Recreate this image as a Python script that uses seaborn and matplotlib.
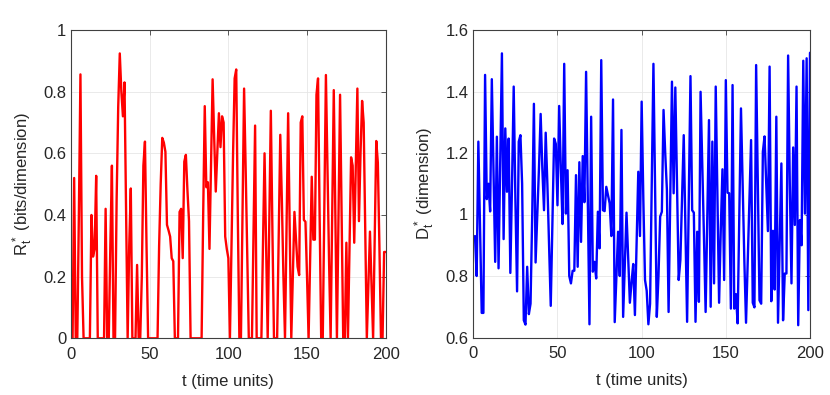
import numpy as np
import pandas as pd
import matplotlib
matplotlib.use("Agg")
import matplotlib.pyplot as plt
import seaborn as sns

# ---------------- data ----------------
t = list(range(1, 201))

rate = [
    0, 0.52, 0, 0, 0.40, 0.856, 0.2, 0, 0, 0,
    0, 0, 0.40, 0.265, 0.29, 0.527, 0, 0, 0, 0,
    0, 0.42, 0, 0, 0.30, 0.56, 0, 0, 0.45, 0.75,
    0.924, 0.8, 0.72, 0.83, 0.4, 0, 0.3, 0.486, 0, 0,
    0, 0.238, 0, 0, 0.2, 0.56, 0.638, 0.3, 0, 0,
    0, 0, 0, 0, 0, 0.3, 0.5, 0.65, 0.635, 0.605,
    0.368, 0.35, 0.33, 0.26, 0.25, 0, 0, 0, 0.41, 0.42,
    0.26, 0.573, 0.595, 0.48, 0.38, 0, 0, 0, 0, 0,
    0, 0, 0, 0.40, 0.753, 0.49, 0.506, 0.29, 0.56, 0.84,
    0.65, 0.476, 0.6, 0.73, 0.62, 0.72, 0.70, 0.33, 0.29, 0.26,
    0, 0.3, 0.6, 0.843, 0.872, 0.4, 0, 0, 0.4, 0.81,
    0.55, 0.27, 0, 0, 0, 0.35, 0.69, 0, 0, 0,
    0, 0.3, 0.60, 0.3, 0, 0.37, 0.738, 0.35, 0, 0,
    0, 0.33, 0.66, 0.45, 0.2, 0, 0.36, 0.73, 0.35, 0,
    0.2, 0.41, 0.32, 0.232, 0.205, 0.70, 0.72, 0.384, 0.378, 0.2,
    0, 0.26, 0.524, 0.32, 0.32, 0.79, 0.843, 0.4, 0, 0,
    0.43, 0.854, 0.55, 0.25, 0, 0.4, 0.805, 0.4, 0, 0.4,
    0.79, 0.4, 0, 0, 0.31, 0, 0.3, 0.587, 0.56, 0.31,
    0.56, 0.81, 0.38, 0.6, 0.77, 0.70, 0.35, 0, 0.17, 0.346,
    0.17, 0, 0.32, 0.64, 0.57, 0.3, 0, 0, 0.28, 0.28,
]

distortion = [
    0.93, 0.80, 1.237, 0.95, 0.68, 0.68, 1.454, 1.05, 1.10, 1.01,
    1.44, 1.15, 0.846, 1.253, 0.825, 1.17, 1.524, 0.92, 1.28, 1.074,
    1.247, 0.81, 1.1, 1.416, 1.05, 0.75, 1.237, 1.258, 1.10, 0.656,
    0.642, 0.83, 0.676, 0.71, 1.0, 1.36, 0.844, 1.0, 1.15, 1.327,
    1.15, 1.014, 1.266, 1.1, 0.9, 0.703, 0.98, 1.247, 1.23, 1.03,
    1.353, 1.15, 0.969, 1.49, 1.003, 1.144, 0.80, 0.776, 0.817, 0.817,
    1.128, 0.83, 1.17, 0.911, 1.19, 1.04, 1.464, 1.05, 0.643, 1.318,
    0.814, 0.846, 0.792, 1.009, 0.89, 1.502, 1.014, 1.011, 1.09, 1.063,
    1.036, 0.93, 1.374, 0.65, 0.8, 0.944, 0.80, 1.275, 0.667, 0.84,
    1.006, 0.86, 0.713, 0.78, 0.839, 0.673, 0.9, 1.139, 0.93, 1.367,
    1.05, 0.787, 0.752, 0.643, 0.71, 1.1, 1.49, 1.08, 0.667, 0.80,
    0.993, 1.009, 1.34, 1.2, 1.08, 0.683, 1.05, 1.432, 1.069, 1.413,
    1.1, 0.787, 0.852, 1.05, 1.258, 0.95, 0.651, 1.05, 1.45, 1.014,
    1.006, 0.651, 0.944, 0.716, 1.399, 1.17, 0.93, 0.683, 1.0, 1.307,
    0.70, 1.237, 0.776, 1.416, 1.06, 0.713, 0.95, 1.147, 0.787, 1.437,
    1.071, 1.069, 0.694, 1.421, 0.694, 0.741, 0.646, 1.0, 1.345, 1.1,
    0.85, 0.648, 0.85, 1.05, 1.242, 0.713, 0.698, 1.486, 1.1, 0.721,
    0.71, 1.204, 1.254, 1.1, 0.946, 1.481, 0.718, 0.947, 0.756, 1.318,
    0.648, 0.9, 1.166, 0.656, 0.808, 0.808, 1.517, 1.1, 0.776, 1.218,
    0.966, 1.416, 0.64, 0.982, 0.9, 1.50, 1.003, 1.508, 0.689, 1.526,
]

x_ticks = [0, 50, 100, 150, 200]
r_ticks = [0, 0.2, 0.4, 0.6, 0.8, 1.0]
r_tick_labels = ["0", "0.2", "0.4", "0.6", "0.8", "1"]
d_ticks = [0.6, 0.8, 1.0, 1.2, 1.4, 1.6]
d_tick_labels = ["0.6", "0.8", "1", "1.2", "1.4", "1.6"]

xlabel = "t (time units)"
r_label = r"$\mathregular{R_t^*}$ (bits/dimension)"
d_label = r"$\mathregular{D_t^*}$ (dimension)"

# ---------------- style ----------------
sns.set_theme(style="whitegrid")
plt.rcParams["font.family"] = ["Liberation Sans", "DejaVu Sans"]
plt.rcParams["mathtext.fontset"] = "custom"
plt.rcParams["mathtext.rm"] = "Liberation Sans"
plt.rcParams["mathtext.it"] = "Liberation Sans:italic"

df = pd.DataFrame({"t": t, "rate": rate, "distortion": distortion})

fig = plt.figure(figsize=(8.3, 3.95), dpi=100)
ax1 = fig.add_axes([71 / 830, 1 - 338.3 / 395, 314.7 / 830, 308.3 / 395])
ax2 = fig.add_axes([473.3 / 830, 1 - 337.5 / 395, 336.7 / 830, 307.5 / 395])

sns.lineplot(data=df, x="t", y="rate", ax=ax1, color="#ff0000", linewidth=1.7)
sns.lineplot(data=df, x="t", y="distortion", ax=ax2, color="#0000ff", linewidth=1.7)

for ax, yt, ytl, yl, ylim in [
    (ax1, r_ticks, r_tick_labels, r_label, (0, 1)),
    (ax2, d_ticks, d_tick_labels, d_label, (0.6, 1.6)),
]:
    ax.set_xlim(0, 200)
    ax.set_ylim(*ylim)
    ax.set_xticks(x_ticks)
    ax.set_xticklabels([str(v) for v in x_ticks])
    ax.set_yticks(yt)
    ax.set_yticklabels(ytl)
    ax.set_xlabel(xlabel, fontsize=12, color="#262626", labelpad=9)
    ax.set_ylabel(yl, fontsize=12, color="#262626", labelpad=6)
    ax.set_facecolor("white")
    ax.grid(True, color="#e6e6e6", linewidth=0.6)
    for s in ax.spines.values():
        s.set_visible(True)
        s.set_color("#404040")
        s.set_linewidth(0.8)
    ax.tick_params(direction="in", top=True, right=True, length=3.5, width=0.6,
                   color="#404040", labelsize=12, labelcolor="#262626")
    ax.tick_params(axis="x", pad=6)
    ax.tick_params(axis="y", pad=3.5)

fig.savefig("out.png", dpi=100, facecolor="white")
